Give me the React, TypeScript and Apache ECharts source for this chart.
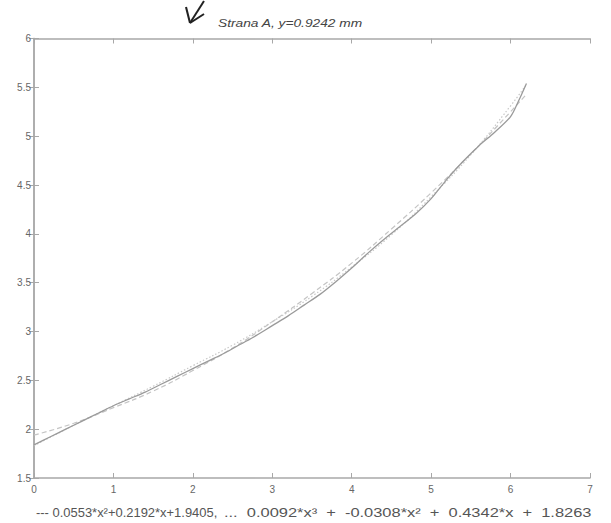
import React, { useEffect, useRef } from "react";
import * as echarts from "echarts";

const xTicks = [0, 1, 2, 3, 4, 5, 6, 7];
const yTicks = [1.5, 2, 2.5, 3, 3.5, 4, 4.5, 5, 5.5, 6];

const dataX = [0, 0.2, 0.4, 0.6, 0.8, 1.0, 1.2, 1.4, 1.6, 1.8, 2.0, 2.2, 2.4, 2.6, 2.8, 3.0, 3.2, 3.4, 3.6, 3.8, 4.0, 4.2, 4.4, 4.6, 4.8, 5.0, 5.2, 5.4, 5.6, 5.8, 6.0, 6.1, 6.2];
const dataY = [1.84, 1.92, 2.0, 2.08, 2.16, 2.24, 2.31, 2.38, 2.46, 2.54, 2.62, 2.7, 2.78, 2.87, 2.96, 3.06, 3.16, 3.27, 3.38, 3.51, 3.65, 3.8, 3.94, 4.07, 4.2, 4.36, 4.56, 4.74, 4.9, 5.04, 5.2, 5.36, 5.54];

// fitted curves
const fitX = [0, 0.5, 1, 1.5, 2, 2.5, 3, 3.5, 4, 4.5, 5, 5.5, 6, 6.2];
const quadY = [1.94, 2.06, 2.22, 2.39, 2.6, 2.83, 3.1, 3.39, 3.7, 4.05, 4.42, 4.82, 5.25, 5.43];
const cubicY = [1.83, 2.04, 2.24, 2.44, 2.65, 2.86, 3.1, 3.36, 3.66, 3.99, 4.38, 4.81, 5.31, 5.53];

const titleText = "Strana A, y=0.9242 mm";
const legendQuad = "--- 0.0553*x²+0.2192*x+1.9405,";
const legendCubic = "...  0.0092*x³  +  -0.0308*x²  +  0.4342*x  +  1.8263";

const pairs = (xs: number[], ys: number[]) => xs.map((x, i) => [x, ys[i]]);

export default function App() {
  const ref = useRef<HTMLDivElement>(null);
  useEffect(() => {
    if (!ref.current) return;
    const chart = echarts.init(ref.current, null, { renderer: "svg" });
    const axisColor = "#a8a8a8";
    const labelColor = "#666";
    const font = "Arial, 'Liberation Sans', sans-serif";
    const baseX = {
      type: "value" as const,
      min: 0,
      max: 7,
      interval: 1,
      axisLine: { show: true, lineStyle: { color: axisColor, width: 1.5 } },
      axisTick: { show: true, inside: true, length: 5, lineStyle: { color: axisColor } },
      splitLine: { show: false },
    };
    const baseY = {
      type: "value" as const,
      min: 1.5,
      max: 6,
      interval: 0.5,
      axisLine: { show: true, lineStyle: { color: axisColor, width: 1.5 } },
      axisTick: { show: true, inside: true, length: 5, lineStyle: { color: axisColor } },
      splitLine: { show: false },
    };
    chart.setOption({
      animation: false,
      backgroundColor: "#fff",
      grid: { left: 34, right: 21, top: 38.5, bottom: 45, containLabel: false },
      xAxis: [
        {
          ...baseX,
          position: "bottom",
          axisLabel: {
            color: labelColor,
            fontSize: 10,
            fontFamily: font,
            margin: 6,
            formatter: (v: number) => (xTicks.includes(v) ? String(v) : ""),
          },
        },
        { ...baseX, position: "top", axisLabel: { show: false } },
      ],
      yAxis: [
        {
          ...baseY,
          position: "left",
          axisLabel: {
            color: labelColor,
            fontSize: 10,
            fontFamily: font,
            margin: 3,
            formatter: (v: number) => (yTicks.includes(v) ? String(v) : ""),
          },
        },
        { ...baseY, position: "right", axisLabel: { show: false } },
      ],
      series: [
        {
          type: "line",
          name: "quad",
          data: pairs(fitX, quadY),
          smooth: true,
          symbol: "none",
          lineStyle: { color: "#c4c4c4", width: 1.2, type: [5, 3] },
        },
        {
          type: "line",
          name: "cubic",
          data: pairs(fitX, cubicY),
          smooth: true,
          symbol: "none",
          lineStyle: { color: "#c8c8c8", width: 1.2, type: [1.5, 2] },
        },
        {
          type: "line",
          name: "data",
          data: pairs(dataX, dataY),
          smooth: 0.3,
          symbol: "none",
          lineStyle: { color: "#9a9a9a", width: 1.3 },
        },
      ],
      graphic: [
        {
          type: "line",
          shape: { x1: 204, y1: 1, x2: 190, y2: 23 },
          style: { stroke: "#222", lineWidth: 2 },
        },
        {
          type: "line",
          shape: { x1: 190, y1: 23, x2: 186, y2: 7 },
          style: { stroke: "#222", lineWidth: 2 },
        },
        {
          type: "line",
          shape: { x1: 190, y1: 23, x2: 204, y2: 14 },
          style: { stroke: "#222", lineWidth: 2 },
        },
        {
          type: "text",
          x: 218,
          y: 23,
          scaleX: 1.25,
          style: {
            text: titleText,
            fill: "#444",
            font: "italic 11px Arial, 'Liberation Sans', sans-serif",
            textVerticalAlign: "middle",
          },
        },
        {
          type: "text",
          x: 36,
          y: 513,
          scaleX: 1.08,
          style: {
            text: legendQuad,
            fill: "#555",
            font: "12px Arial, 'Liberation Sans', sans-serif",
            textVerticalAlign: "middle",
          },
        },
        {
          type: "text",
          x: 224,
          y: 513,
          scaleX: 1.37,
          style: {
            text: legendCubic,
            fill: "#555",
            font: "12px Arial, 'Liberation Sans', sans-serif",
            textVerticalAlign: "middle",
          },
        },
      ],
    });
    return () => chart.dispose();
  }, []);
  return (
    <div
      ref={ref}
      style={{ position: "fixed", left: 0, top: 0, width: 611, height: 523, background: "#fff" }}
    />
  );
}
